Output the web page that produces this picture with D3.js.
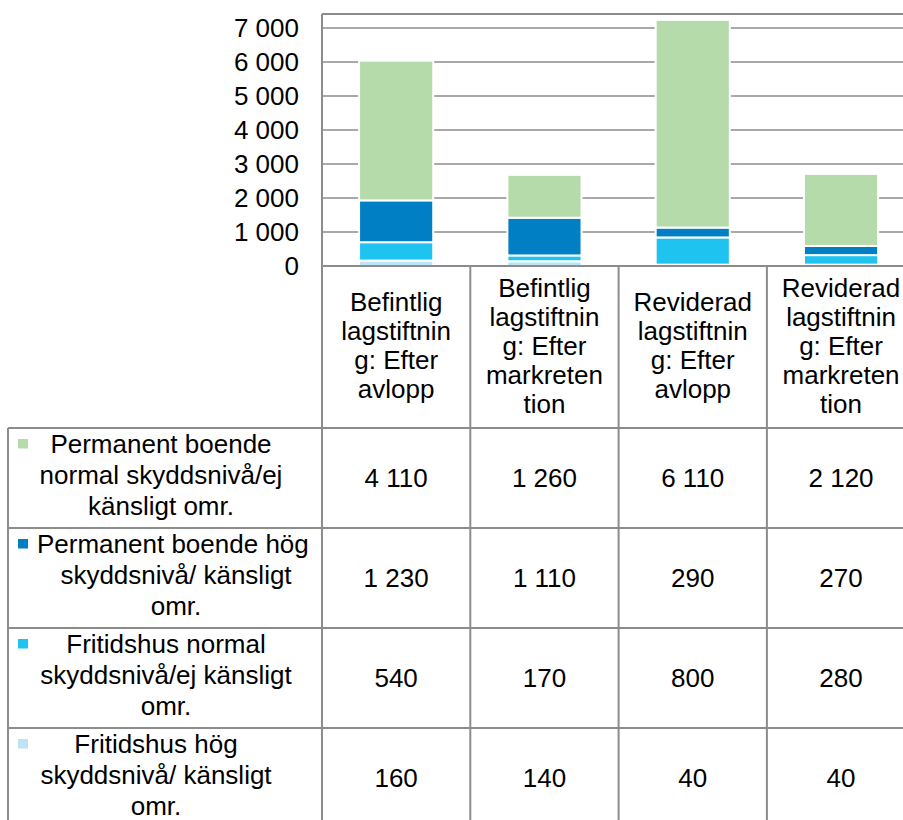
<!DOCTYPE html>
<html>
<head>
<meta charset="utf-8">
<script src="https://cdn.jsdelivr.net/npm/d3@7"></script>
<style>
  body { margin: 0; background: #fff; overflow: hidden; }
  svg { display: block; font-family: "Liberation Sans", Arial, sans-serif; }
</style>
</head>
<body>
<script>
// Data
const categories = [
  'Befintlig lagstiftning: Efter avlopp',
  'Befintlig lagstiftning: Efter markretention',
  'Reviderad lagstiftning: Efter avlopp',
  'Reviderad lagstiftning: Efter markretention'
];
// category labels as they wrap in the table header
const categoryLines = [
  ['Befintlig', 'lagstiftnin', 'g: Efter', 'avlopp'],
  ['Befintlig', 'lagstiftnin', 'g: Efter', 'markreten', 'tion'],
  ['Reviderad', 'lagstiftnin', 'g: Efter', 'avlopp'],
  ['Reviderad', 'lagstiftnin', 'g: Efter', 'markreten', 'tion']
];
const seriesNames = [
  'Permanent boende normal skyddsnivå/ej känsligt omr.',
  'Permanent boende hög skyddsnivå/ känsligt omr.',
  'Fritidshus normal skyddsnivå/ej känsligt omr.',
  'Fritidshus hög skyddsnivå/ känsligt omr.'
];
const seriesLines = [
  ['Permanent boende', 'normal skyddsnivå/ej', 'känsligt omr.'],
  ['Permanent boende hög', 'skyddsnivå/ känsligt', 'omr.'],
  ['Fritidshus normal', 'skyddsnivå/ej känsligt', 'omr.'],
  ['Fritidshus hög', 'skyddsnivå/ känsligt', 'omr.']
];
const permNormal = [4110, 1260, 6110, 2120];
const permHog = [1230, 1110, 290, 270];
const fritidNormal = [540, 170, 800, 280];
const fritidHog = [160, 140, 40, 40];
const yTicks = [0, 1000, 2000, 3000, 4000, 5000, 6000, 7000];

const seriesValues = [permNormal, permHog, fritidNormal, fritidHog];
const colors = ['#b5dbab', '#007fc4', '#1ec3f0', '#bde3f6'];

const width = 903;
const height = 820;
const fontSize = 26;
const lineGap = 29;
const gridColor = '#8c8c8c';

const plotLeft = 322;
const colWidth = 148.3;
const headerTop = 266;
const headerBottom = 428;
const rowHeight = 100;
const tableLeft = 8;

const svg = d3.select('body')
  .append('svg')
  .attr('width', width)
  .attr('height', height);

// Scales
const x = d3.scaleBand()
  .domain(categories)
  .range([plotLeft, plotLeft + colWidth * categories.length])
  .padding(0);

const y = d3.scaleLinear()
  .domain([0, 7000])
  .range([headerTop, 28]);

const plotTop = y(7000) - 14;

const fmt = d3.formatLocale({ decimal: ',', thousands: ' ', grouping: [3], currency: ['', ' kr'] }).format(',d');

// Gridlines
svg.append('g')
  .selectAll('line')
  .data(yTicks.slice(1))
  .join('line')
  .attr('x1', plotLeft)
  .attr('x2', width)
  .attr('y1', d => y(d))
  .attr('y2', d => y(d))
  .attr('stroke', gridColor)
  .attr('stroke-width', 1.5);

// Y axis labels
svg.append('g')
  .selectAll('text')
  .data(yTicks)
  .join('text')
  .attr('x', 299)
  .attr('y', d => y(d) + 9)
  .attr('text-anchor', 'end')
  .attr('font-size', fontSize)
  .attr('fill', '#000')
  .text(d => fmt(d));

// Stack: bottom is Fritidshus hög, top is Permanent normal
const stackOrder = [3, 2, 1, 0];
const rows = categories.map((c, i) => {
  const r = { category: c };
  seriesNames.forEach((s, j) => { r[s] = seriesValues[j][i]; });
  return r;
});
const stack = d3.stack().keys(stackOrder.map(j => seriesNames[j]));
const stacked = stack(rows);

const barW = x.bandwidth() / 2;
svg.append('g')
  .selectAll('g')
  .data(stacked)
  .join('g')
  .attr('fill', d => colors[seriesNames.indexOf(d.key)])
  .selectAll('rect')
  .data(d => d)
  .join('rect')
  .attr('x', d => x(d.data.category) + (x.bandwidth() - barW) / 2)
  .attr('y', d => y(d[1]))
  .attr('width', barW)
  .attr('height', d => y(d[0]) - y(d[1]))
  .attr('stroke', '#fff')
  .attr('stroke-width', 2);

// Frame and table lines
const lines = svg.append('g')
  .attr('stroke', gridColor)
  .attr('stroke-width', 2)
  .attr('fill', 'none');

lines.append('line')
  .attr('x1', plotLeft).attr('x2', width)
  .attr('y1', plotTop).attr('y2', plotTop);
lines.append('line')
  .attr('x1', plotLeft).attr('x2', width)
  .attr('y1', headerTop).attr('y2', headerTop);

// horizontal row borders
const rowTops = seriesNames.map((s, i) => headerBottom + i * rowHeight);
lines.selectAll('.rowline')
  .data(rowTops.concat([headerBottom + seriesNames.length * rowHeight]))
  .join('line')
  .attr('x1', tableLeft).attr('x2', width)
  .attr('y1', d => d).attr('y2', d => d);

// vertical borders
lines.append('line')
  .attr('x1', plotLeft).attr('x2', plotLeft)
  .attr('y1', plotTop).attr('y2', height);
lines.append('line')
  .attr('x1', tableLeft).attr('x2', tableLeft)
  .attr('y1', headerBottom).attr('y2', height);
lines.selectAll('.colline')
  .data(categories.slice(1).concat(['end']))
  .join('line')
  .attr('x1', (d, i) => x.range()[0] + (i + 1) * x.bandwidth())
  .attr('x2', (d, i) => x.range()[0] + (i + 1) * x.bandwidth())
  .attr('y1', headerTop).attr('y2', height);

// Header category labels
const header = svg.append('g')
  .attr('font-size', fontSize)
  .attr('text-anchor', 'middle')
  .attr('fill', '#000');

categories.forEach((c, i) => {
  const ls = categoryLines[i];
  const mid = (headerTop + headerBottom) / 2;
  const first = mid - (ls.length * lineGap) / 2 + 22;
  header.append('text')
    .selectAll('tspan')
    .data(ls)
    .join('tspan')
    .attr('x', x(c) + x.bandwidth() / 2)
    .attr('y', (d, k) => first + k * lineGap)
    .text(d => d);
});

// Row labels with legend keys
const rowCenters = [161, 176, 166, 156];
const legend = svg.append('g')
  .attr('font-size', fontSize)
  .attr('fill', '#000');

seriesNames.forEach((s, i) => {
  const top = rowTops[i];
  legend.append('rect')
    .attr('x', 18)
    .attr('y', top + 11)
    .attr('width', 10)
    .attr('height', 9.5)
    .attr('fill', colors[i]);
  legend.append('text')
    .selectAll('tspan')
    .data(seriesLines[i])
    .join('tspan')
    .attr('x', (d, k) => (i === 1 && k === 0) ? 37 : rowCenters[i])
    .attr('text-anchor', (d, k) => (i === 1 && k === 0) ? 'start' : 'middle')
    .attr('y', (d, k) => top + 25 + k * 31)
    .text(d => d);
});

// Table values
const cells = svg.append('g')
  .attr('font-size', fontSize)
  .attr('text-anchor', 'middle')
  .attr('fill', '#000');

seriesValues.forEach((vals, i) => {
  cells.selectAll('.r' + i)
    .data(vals)
    .join('text')
    .attr('x', (d, k) => x(categories[k]) + x.bandwidth() / 2)
    .attr('y', rowTops[i] + 59)
    .text(d => fmt(d));
});
</script>
</body>
</html>
